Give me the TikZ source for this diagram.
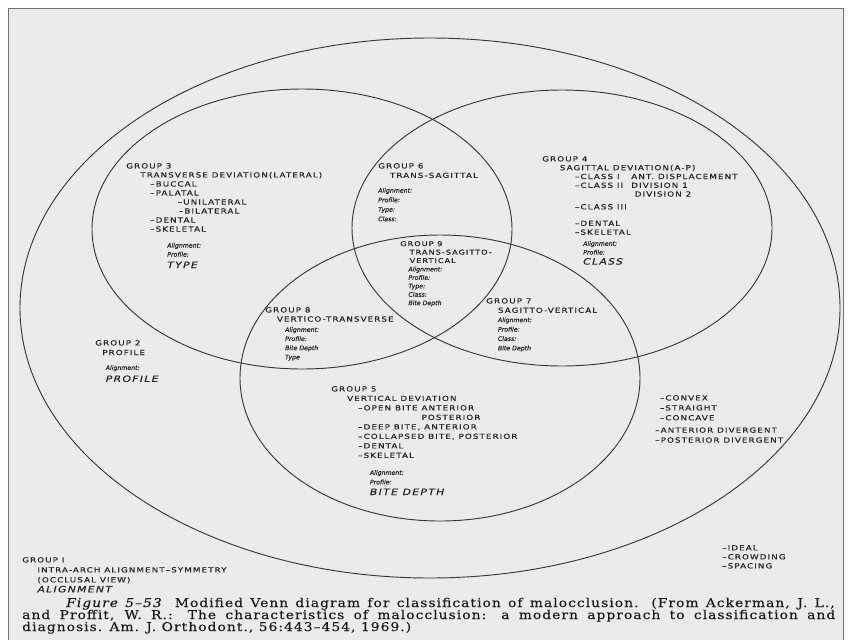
\documentclass[tikz,border=0pt]{standalone}
\usepackage{fontspec}
\setmainfont{DejaVu Serif}
\newfontfamily\lblfont[FakeStretch=1.25, LetterSpace=15, FakeBold=0.6]{DejaVu Sans}
\newfontfamily\traitfont[FakeBold=0.6]{DejaVu Sans}
\newfontfamily\capfont[FakeStretch=1.14, LetterSpace=9, FakeBold=0.4]{DejaVu Serif}
\newcommand{\pad}[1]{\hspace*{#1pt}}
\newcommand{\trait}[1]{{\traitfont\itshape\fontsize{5.3}{6}\selectfont #1}}
\newcommand{\category}[1]{{\itshape\fontsize{7.4}{8}\selectfont #1}}

\begin{document}
\begin{tikzpicture}[x=0.03cm, y=-0.03cm,
  venn/.style={draw=black!78, line width=0.8pt},
  grp/.style={anchor=north west, inner sep=0pt, align=left, text=black!85,
    font=\lblfont\fontsize{6}{7.7}\selectfont},
  capline/.style={anchor=base west, inner sep=0pt, text=black!90,
    font=\capfont\fontsize{10.3}{12}\selectfont}]
  \useasboundingbox (0,0) rectangle (850,640);
  % page
  \fill[white] (0,0) rectangle (850,640);
  \fill[black!8] (8,8) rectangle (843,640);
  \draw[black!55, line width=0.8pt] (8,640) -- (8,8) -- (843,8) -- (843,640);

  % groups 2 to 5
  \draw[venn] (430,308) ellipse [x radius=410, y radius=270];
  \draw[venn] (302,229) ellipse [x radius=210, y radius=140];
  \draw[venn] (562,228) ellipse [x radius=210, y radius=138];
  \draw[venn] (440,378) ellipse [x radius=200, y radius=143];

  \node[grp] (g3) at (126,163) {GROUP 3\\
    \pad{12}TRANSVERSE DEVIATION(LATERAL)\\
    \pad{20.5}–BUCCAL\\
    \pad{20.5}–PALATAL\\
    \pad{44}–UNILATERAL\\
    \pad{45}–BILATERAL\\
    \pad{20.5}–DENTAL\\
    \pad{20.5}–SKELETAL\\[6pt]
    \pad{35}\trait{Alignment:}\\
    \pad{35}\trait{Profile:}\\[2pt]
    \pad{35}\category{TYPE}};

  \node[grp, font=\lblfont\fontsize{6}{8.1}\selectfont] (g6) at (378,163) {GROUP 6\\
    \pad{10}TRANS-SAGITTAL\\[4.5pt]
    \trait{Alignment:}\\
    \trait{Profile:}\\
    \trait{Type:}\\
    \trait{Class:}};

  \node[grp, font=\lblfont\fontsize{6}{7.5}\selectfont] (g4) at (542,156) {GROUP 4\\
    \pad{15}SAGITTAL DEVIATION(A-P)\\
    \pad{28}\makebox[48pt][l]{–CLASS I}ANT. DISPLACEMENT\\
    \pad{28}\makebox[48pt][l]{–CLASS II}DIVISION 1\\
    \pad{79}DIVISION 2\\[3.4pt]
    \pad{28}–CLASS III\\[6.6pt]
    \pad{28}–DENTAL\\
    \pad{28}–SKELETAL\\[2pt]
    \pad{35}\trait{Alignment:}\\
    \pad{35}\trait{Profile:}\\[1pt]
    \pad{35}\category{CLASS}};

  \node[grp, font=\lblfont\fontsize{5.6}{7.2}\selectfont] (g9) at (400,241) {GROUP 9\\
    \pad{8}TRANS-SAGITTO-\\
    \pad{8}VERTICAL\\
    \pad{7}\trait{Alignment:}\\
    \pad{7}\trait{Profile:}\\
    \pad{7}\trait{Type:}\\
    \pad{7}\trait{Class:}\\
    \pad{7}\trait{Bite Depth}};

  \node[grp, font=\lblfont\fontsize{6}{7.8}\selectfont] (g8) at (265,307) {GROUP 8\\
    \pad{10}VERTICO-TRANSVERSE\\[1pt]
    \pad{17}\trait{Alignment:}\\
    \pad{17}\trait{Profile:}\\
    \pad{17}\trait{Bite Depth}\\
    \pad{17}\trait{Type}};

  \node[grp, font=\lblfont\fontsize{6}{8}\selectfont] (g7) at (486,298) {GROUP 7\\
    \pad{10}SAGITTO-VERTICAL\\
    \pad{10}\trait{Alignment:}\\
    \pad{10}\trait{Profile:}\\
    \pad{10}\trait{Class:}\\
    \pad{10}\trait{Bite Depth}};

  \node[grp, font=\lblfont\fontsize{6}{8.2}\selectfont] (g2) at (95,340) {GROUP 2\\
    \pad{6}PROFILE\\[4.5pt]
    \pad{9}\trait{Alignment:}\\[2pt]
    \pad{9}\category{PROFILE}};

  \node[grp, font=\lblfont\fontsize{6}{8.1}\selectfont] (g5) at (331,386) {GROUP 5\\
    \pad{13.6}VERTICAL DEVIATION\\
    \pad{23}–OPEN BITE ANTERIOR\\
    \pad{23}\hphantom{–OPEN BITE }POSTERIOR\\
    \pad{23}–DEEP BITE, ANTERIOR\\
    \pad{23}–COLLAPSED BITE, POSTERIOR\\
    \pad{23}–DENTAL\\
    \pad{23}–SKELETAL\\[6.4pt]
    \pad{33}\trait{Alignment:}\\
    \pad{33}\trait{Profile:}\\[1pt]
    \pad{33}\category{BITE DEPTH}};

  \node[grp, font=\lblfont\fontsize{6}{8.5}\selectfont] (shape) at (655,395) {\pad{4}–CONVEX\\
    \pad{4}–STRAIGHT\\
    \pad{4}–CONCAVE\\[2pt]
    –ANTERIOR DIVERGENT\\
    –POSTERIOR DIVERGENT};

  % group 1, outside every ring
  \node[grp, font=\lblfont\fontsize{6}{7.7}\selectfont] (arch) at (722,545) {–IDEAL\\
    –CROWDING\\
    –SPACING};

  \node[grp, font=\lblfont\fontsize{6}{8.5}\selectfont] (g1) at (22,557) {GROUP I\\
    \pad{13}INTRA-ARCH ALIGNMENT–SYMMETRY\\
    \pad{13}(OCCLUSAL VIEW)\\
    \pad{13}\category{ALIGNMENT}};

  % caption
  \node[capline] (cap1) at (66,607) {\makebox[656pt][s]{\textit{Figure 5–53}\quad Modified Venn diagram for classification of malocclusion. (From Ackerman, J. L.,}};
  \node[capline] (cap2) at (22,619) {\makebox[694pt][s]{and Proffit, W. R.: The characteristics of malocclusion: a modern approach to classification and}};
  \node[capline] (cap3) at (22,631) {diagnosis. Am. J. Orthodont., 56:443–454, 1969.)};
\end{tikzpicture}
\end{document}
